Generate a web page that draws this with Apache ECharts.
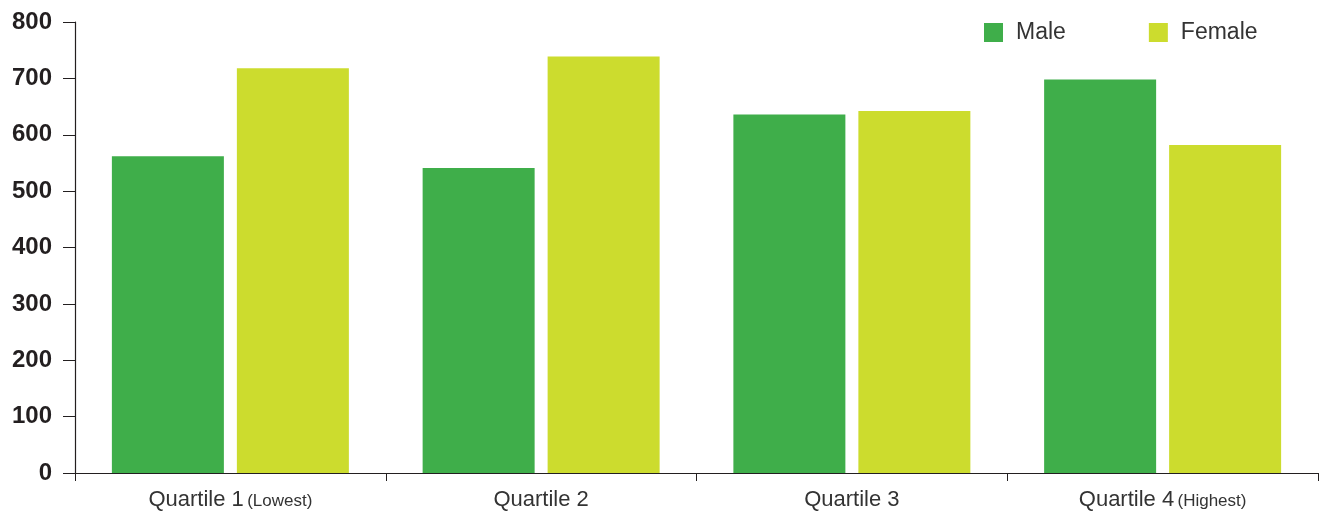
<!DOCTYPE html>
<html><head><meta charset="utf-8">
<script src="https://cdn.jsdelivr.net/npm/echarts@6/dist/echarts.min.js"></script>
<style>html,body{margin:0;padding:0;background:#fff}#c{width:1319px;height:513px}</style>
</head><body><div id="c"></div>
<script>
const categories = ["Quartile 1 (Lowest)", "Quartile 2", "Quartile 3", "Quartile 4 (Highest)"];
const maleValues = [562, 541, 636, 698];
const femaleValues = [718, 739, 642, 582];
const seriesNames = ["Male", "Female"];
const yTicks = [0, 100, 200, 300, 400, 500, 600, 700, 800];

const chart = echarts.init(document.getElementById('c'), null, {renderer: 'canvas'});
chart.setOption({
  animation: false,
  backgroundColor: '#fff',
  grid: {left: 75, right: 1, top: 22, bottom: 40, containLabel: false},
  legend: {
    data: seriesNames,
    left: 984, top: 21, padding: 0,
    itemWidth: 19, itemHeight: 19, itemGap: 83,
    icon: 'rect',
    textStyle: {fontSize: 23, color: '#333', fontFamily: 'Liberation Sans, Arial, sans-serif', padding: [0, 0, 0, 8]}
  },
  xAxis: {
    type: 'category',
    data: categories,
    axisLine: {lineStyle: {color: '#231f20', width: 1.2}},
    axisTick: {show: true, length: 8, lineStyle: {color: '#231f20'}},
    axisLabel: {
      margin: 16,
      formatter: function (v) {
        const i = v.indexOf(' (');
        if (i < 0) return '{a|' + v + '}';
        return '{a|' + v.slice(0, i) + '} {b|' + v.slice(i + 1) + '}';
      },
      rich: {
        a: {fontSize: 22, color: '#333', fontFamily: 'Liberation Sans, Arial, sans-serif'},
        b: {fontSize: 17, color: '#333', fontFamily: 'Liberation Sans, Arial, sans-serif', padding: [3, 0, 0, 0]}
      }
    }
  },
  yAxis: {
    type: 'value',
    min: 0, max: 800, interval: 100,
    axisLine: {show: true, lineStyle: {color: '#231f20', width: 1.2}},
    axisTick: {show: true, length: 12, lineStyle: {color: '#231f20'}},
    splitLine: {show: false},
    axisLabel: {
      margin: 23,
      fontSize: 24, fontWeight: 'bold', color: '#231f20',
      fontFamily: 'Liberation Sans, Arial, sans-serif',
      formatter: function (v) { return yTicks.indexOf(v) >= 0 ? String(v) : ''; }
    }
  },
  series: [
    {name: seriesNames[0], type: 'bar', data: maleValues, itemStyle: {color: '#3fae4a'}, barWidth: 112, barGap: '11.6%'},
    {name: seriesNames[1], type: 'bar', data: femaleValues, itemStyle: {color: '#ccdc2e'}, barWidth: 112, barGap: '11.6%'}
  ]
});
</script>
</body></html>
